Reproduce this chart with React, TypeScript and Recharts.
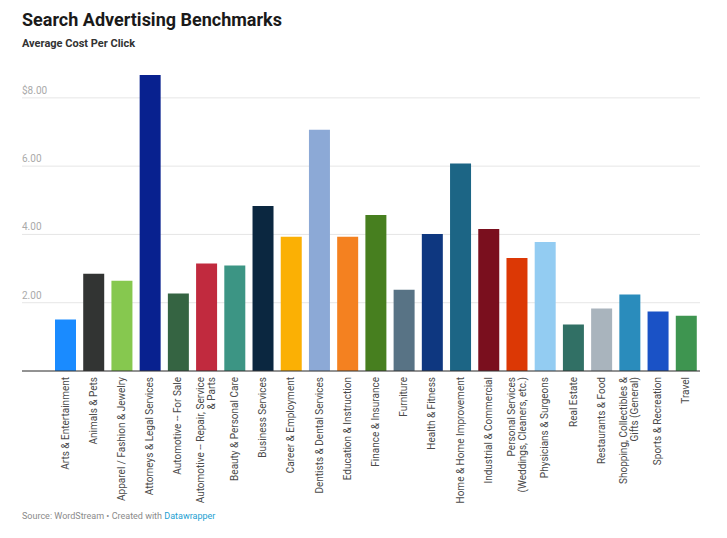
import { BarChart, Bar, XAxis, YAxis, CartesianGrid, Cell } from "recharts";

const categories = [
  "Arts & Entertainment",
  "Animals & Pets",
  "Apparel / Fashion & Jewelry",
  "Attorneys & Legal Services",
  "Automotive -- For Sale",
  "Automotive -- Repair, Service & Parts",
  "Beauty & Personal Care",
  "Business Services",
  "Career & Employment",
  "Dentists & Dental Services",
  "Education & Instruction",
  "Finance & Insurance",
  "Furniture",
  "Health & Fitness",
  "Home & Home Improvement",
  "Industrial & Commercial",
  "Personal Services (Weddings, Cleaners, etc.)",
  "Physicians & Surgeons",
  "Real Estate",
  "Restaurants & Food",
  "Shopping, Collectibles & Gifts (General)",
  "Sports & Recreation",
  "Travel",
];

// how each category label is broken into lines under the axis
const tickLabels = [
  ["Arts & Entertainment"],
  ["Animals & Pets"],
  ["Apparel / Fashion & Jewelry"],
  ["Attorneys & Legal Services"],
  ["Automotive -- For Sale"],
  ["Automotive -- Repair, Service", "& Parts"],
  ["Beauty & Personal Care"],
  ["Business Services"],
  ["Career & Employment"],
  ["Dentists & Dental Services"],
  ["Education & Instruction"],
  ["Finance & Insurance"],
  ["Furniture"],
  ["Health & Fitness"],
  ["Home & Home Improvement"],
  ["Industrial & Commercial"],
  ["Personal Services", "(Weddings, Cleaners, etc.)"],
  ["Physicians & Surgeons"],
  ["Real Estate"],
  ["Restaurants & Food"],
  ["Shopping, Collectibles &", "Gifts (General)"],
  ["Sports & Recreation"],
  ["Travel"],
];

const costPerClick = [
  1.51, 2.85, 2.64, 8.67, 2.27, 3.15, 3.09, 4.83, 3.93, 7.07, 3.93, 4.57,
  2.38, 4.01, 6.08, 4.16, 3.31, 3.78, 1.36, 1.83, 2.24, 1.74, 1.62,
];

const barColors = [
  "#1a8bff", "#323433", "#86c84f", "#08218f", "#356442", "#c12a3e",
  "#3c9584", "#0b2740", "#fbb004", "#8ca9d6", "#f48120", "#477f1f",
  "#587385", "#0e3780", "#1c6585", "#7a0f1e", "#dc3805", "#93ccf2",
  "#317065", "#a9b4bd", "#2a8cbc", "#1a52c6", "#3e9550",
];

const yTicks = [0, 2, 4, 6, 8];

const data = categories.map((name, i) => ({ name, cpc: costPerClick[i] }));

const FONT = "Roboto, 'Noto Sans', sans-serif";
const PLOT_LEFT = 22;

function formatY(v: number) {
  if (v === 0) return "";
  if (v === 8) return "$8.00";
  return v.toFixed(2);
}

function YTick({ y, payload }: any) {
  return (
    <text x={PLOT_LEFT} y={y - 4} textAnchor="start" fill="#aaaaaa" fontSize={10} fontFamily={FONT}>
      {formatY(payload.value)}
    </text>
  );
}

function XTick({ x, y, payload }: any) {
  const lines = tickLabels[payload.index] ?? [payload.value];
  const lh = 11;
  return (
    <g transform={`translate(${x},${y})`}>
      <text transform="rotate(-90)" textAnchor="end" fill="#4a4a4a" fontSize={10} fontFamily={FONT}>
        {lines.map((line: string, i: number) => (
          <tspan key={i} x={0} y={(i - (lines.length - 1) / 2) * lh + 3.5}>
            {line}
          </tspan>
        ))}
      </text>
    </g>
  );
}

export default function App() {
  return (
    <div
      style={{
        position: "absolute",
        left: 0,
        top: 0,
        width: 727,
        height: 538,
        background: "#fff",
        fontFamily: FONT,
        overflow: "hidden",
      }}
    >
      <div style={{ position: "absolute", left: 22, top: 9, fontSize: 18, fontWeight: 700, color: "#1a1a1a" }}>
        Search Advertising Benchmarks
      </div>
      <div style={{ position: "absolute", left: 22, top: 37, fontSize: 11, fontWeight: 700, color: "#333" }}>
        Average Cost Per Click
      </div>

      <div style={{ position: "absolute", left: 0, top: 0 }}>
        <BarChart
          width={727}
          height={538}
          data={data}
          margin={{ top: 75, right: 27, left: 0, bottom: 0 }}
        >
          <CartesianGrid horizontal vertical={false} stroke="#e6e6e6" syncWithTicks />
          <XAxis
            dataKey="name"
            interval={0}
            height={167}
            tickLine={false}
            tickSize={6}
            tickMargin={0}
            axisLine={{ stroke: "#333333" }}
            padding={{ left: 29, right: 0 }}
            tick={<XTick />}
          />
          <YAxis
            width={PLOT_LEFT}
            domain={[0, "dataMax"]}
            ticks={yTicks}
            axisLine={false}
            tickLine={false}
            tick={<YTick />}
          />
          <Bar dataKey="cpc" barSize={21} isAnimationActive={false}>
            {data.map((_, i) => (
              <Cell key={i} fill={barColors[i]} />
            ))}
          </Bar>
        </BarChart>
      </div>

      <div style={{ position: "absolute", left: 22, top: 511, fontSize: 9, color: "#8a8a8a" }}>
        Source: WordStream • Created with <span style={{ color: "#1d9fd2" }}>Datawrapper</span>
      </div>
    </div>
  );
}
